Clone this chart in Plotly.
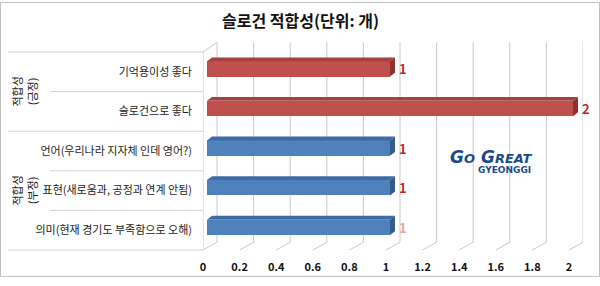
import plotly.graph_objects as go

# ---------------- data ----------------
categories = [
    "기억용이성 좋다",
    "슬로건으로 좋다",
    "언어(우리나라 지자체 인데 영어?)",
    "표현(새로움과, 공정과 연계 안됨)",
    "의미(현재 경기도 부족함으로 오해)",
]
values = [1, 2, 1, 1, 1]
groups = ["긍정", "긍정", "부정", "부정", "부정"]
group_names = ["긍정", "부정"]
x_ticks = [0, 0.2, 0.4, 0.6, 0.8, 1, 1.2, 1.4, 1.6, 1.8, 2]
x_tick_labels = ["0", "0.2", "0.4", "0.6", "0.8", "1", "1.2", "1.4", "1.6", "1.8", "2"]
title_text = "슬로건 적합성(단위: 개)"

# ---------------- styling ----------------
W, H = 600, 286
ML, MR, MT, MB = 203, 17, 52, 28
PLOT_W = W - ML - MR
PLOT_H = H - MT - MB
FONT = "Noto Sans CJK KR"

PX_X = 183.0                      # pixels per x unit
BACK_OFF = 14 / PX_X              # back wall shift (x units)
XMAX = PLOT_W / PX_X
N = len(categories)
PX_Y = PLOT_H / N                 # pixels per category
BASE = 4 / PX_X                   # bar depth position
DX = 5 / PX_X                     # 3D depth in x
DY = 4 / PX_Y                     # 3D depth in y (category units)
BAR_W = 16 / PX_Y
BAR_SHIFT = 3 / PX_Y

front = {"긍정": "#C0504D", "부정": "#4F81BD"}
top_c = {"긍정": "#A5403D", "부정": "#3E6BA3"}
side_c = {"긍정": "#8C3330", "부정": "#345B8C"}
GRID = "#c8c8c8"


def pxx(px):
    return (px - ML) / PLOT_W


def pxy(py):
    return (H - MB - py) / PLOT_H


def cat_paper(b):
    # boundary in category units -> paper y (axis reversed, range [N-0.5, -0.5])
    return (N - 0.5 - b) / N


fig = go.Figure()

fig.add_trace(go.Bar(
    x=values,
    y=list(range(N)),
    base=BASE,
    orientation="h",
    width=BAR_W,
    offset=-BAR_SHIFT - BAR_W / 2,
    marker=dict(color=[front[g] for g in groups], line=dict(width=0)),
    hoverinfo="skip",
    showlegend=False,
))

shapes = []

# back wall gridlines + floor diagonals
y_back_bot = pxy(H - MB - 8)
y_back_top = pxy(MT - 10)
for t in x_ticks:
    shapes.append(dict(type="line", xref="x", yref="paper",
                       x0=t + BACK_OFF, x1=t + BACK_OFF, y0=y_back_bot, y1=y_back_top,
                       line=dict(color=GRID, width=1), layer="below"))
    shapes.append(dict(type="line", xref="x", yref="paper",
                       x0=t + BACK_OFF, x1=t, y0=y_back_bot, y1=0,
                       line=dict(color=GRID, width=1), layer="below"))
# left wall front edge and top diagonal
shapes.append(dict(type="line", xref="x", yref="paper", x0=0, x1=0, y0=0, y1=1,
                   line=dict(color=GRID, width=1), layer="below"))
shapes.append(dict(type="line", xref="x", yref="paper", x0=0, x1=BACK_OFF, y0=1, y1=y_back_top,
                   line=dict(color=GRID, width=1), layer="below"))

# category separators on the left
group_bounds = [0]
for i in range(1, N):
    if groups[i] != groups[i - 1]:
        group_bounds.append(i)
group_bounds.append(N)
for b in range(N + 1):
    x_start = pxx(8) if b in group_bounds else pxx(50)
    yp = cat_paper(b - 0.5)
    shapes.append(dict(type="line", xref="paper", yref="paper",
                       x0=x_start, x1=0, y0=yp, y1=yp,
                       line=dict(color="#d0d0d0", width=1), layer="below"))

# 3D bar faces
for i, (v, g) in enumerate(zip(values, groups)):
    yc = i - BAR_SHIFT
    yt = yc - BAR_W / 2
    yb = yc + BAR_W / 2
    x0 = BASE
    x1 = BASE + v
    top_path = f"M {x0},{yt} L {x0 + DX},{yt - DY} L {x1 + DX},{yt - DY} L {x1},{yt} Z"
    side_path = f"M {x1},{yt} L {x1 + DX},{yt - DY} L {x1 + DX},{yb - DY} L {x1},{yb} Z"
    shapes.append(dict(type="path", xref="x", yref="y", path=top_path,
                       fillcolor=top_c[g], line=dict(width=0)))
    shapes.append(dict(type="path", xref="x", yref="y", path=side_path,
                       fillcolor=side_c[g], line=dict(width=0)))

# outer border
shapes.append(dict(type="rect", xref="paper", yref="paper",
                   x0=pxx(0.5), x1=pxx(W - 0.5), y0=pxy(H - 0.5), y1=pxy(0.5),
                   line=dict(color="#bfbfbf", width=1), layer="below"))

annotations = []
# value labels
label_colors = ["#C0282D"] * (N - 1) + ["#eaa4a4"]
for i, v in enumerate(values):
    annotations.append(dict(x=BASE + v + DX, y=i - BAR_SHIFT, xref="x", yref="y",
                            text=f"<b>{v}</b>", showarrow=False, xanchor="left",
                            yanchor="middle", xshift=2,
                            font=dict(family=FONT, size=13, color=label_colors[i])))

# group labels
for gname in group_names:
    idx = [i for i, g in enumerate(groups) if g == gname]
    mid = (idx[0] - 0.5 + idx[-1] + 0.5) / 2
    annotations.append(dict(x=pxx(24), y=cat_paper(mid), xref="paper", yref="paper",
                            xanchor="center", yanchor="middle",
                            text=f"적합성<br>({gname})", textangle=-90, showarrow=False,
                            font=dict(family=FONT, size=11, color="#222")))

# title
annotations.append(dict(x=pxx(300), y=pxy(19), xref="paper", yref="paper",
                        xanchor="center", yanchor="middle",
                        text=f"<b>{title_text}</b>", showarrow=False,
                        font=dict(family=FONT, size=16, color="#111")))

# logo text
annotations.append(dict(x=pxx(491), y=pxy(161), xref="paper", yref="paper",
                        xanchor="center", yanchor="middle",
                        text="<b><i>G<span style='font-size:13px'>O</span> G<span style='font-size:13px'>REAT</span></i></b>",
                        showarrow=False,
                        font=dict(family="DejaVu Sans", size=17, color="#1B4A8C")))
annotations.append(dict(x=pxx(504), y=pxy(175), xref="paper", yref="paper",
                        xanchor="center", yanchor="middle",
                        text="<b>GYEONGGI</b>", showarrow=False,
                        font=dict(family="DejaVu Sans", size=9, color="#1B4A8C")))

fig.update_layout(
    width=W, height=H,
    margin=dict(l=ML, r=MR, t=MT, b=MB, pad=0),
    paper_bgcolor="white", plot_bgcolor="rgba(0,0,0,0)",
    bargap=0,
    shapes=shapes,
    annotations=annotations,
    xaxis=dict(range=[0, XMAX], tickvals=x_ticks,
               ticktext=[f"<b>{t}</b>" for t in x_tick_labels],
               showgrid=False, zeroline=False, showline=False, ticks="",
               ticklabelstandoff=9,
               tickfont=dict(family=FONT, size=11, color="#111"),
               fixedrange=True),
    yaxis=dict(range=[N - 0.5, -0.5], tickvals=list(range(N)), ticktext=categories,
               showgrid=False, zeroline=False, showline=False, ticks="",
               ticklabelstandoff=10,
               tickfont=dict(family=FONT, size=11, color="#222"),
               fixedrange=True),
    font=dict(family=FONT),
)

fig.write_html("out.html")
